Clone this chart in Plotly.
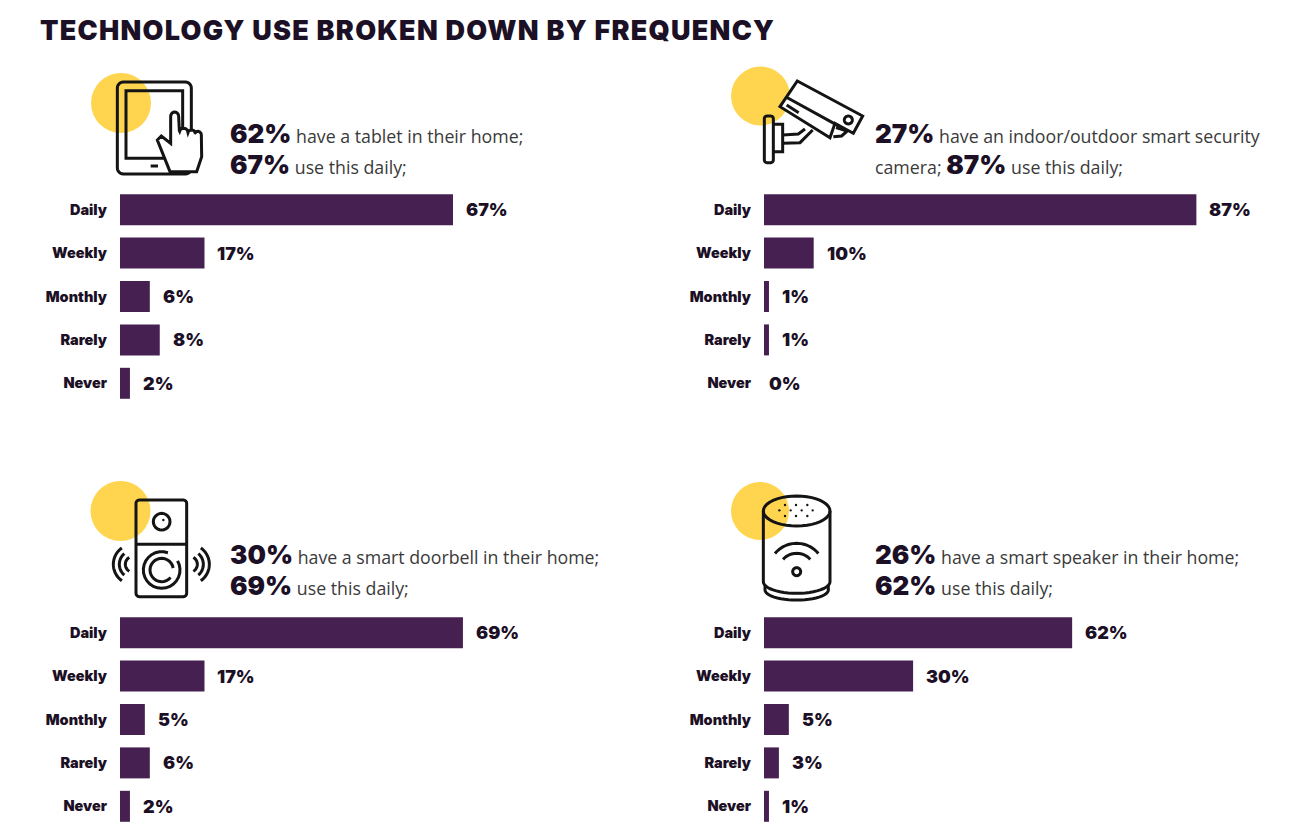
import math
import plotly.graph_objects as go

categories = ["Daily", "Weekly", "Monthly", "Rarely", "Never"]
tablet = [67, 17, 6, 8, 2]
camera = [87, 10, 1, 1, 0]
doorbell = [69, 17, 5, 6, 2]
speaker = [62, 30, 5, 3, 1]
title_text = "TECHNOLOGY USE BROKEN DOWN BY FREQUENCY"

W, H = 1292, 828
PURPLE = "#472052"
DARK = "#1c1026"
BODY = "#3a3a3a"
YELLOW = "#FFD54F"
INK = "#141414"
HEAVY = "Inter"


def px(x):
    return x / W


def py(y):
    return 1 - y / H


panels = [
    dict(vals=tablet, x0=120, y0=188, tx=230, ty=133,
         lines=[("62%", " have a tablet in their home;", ""), ("67%", " use this daily;", "")]),
    dict(vals=camera, x0=764, y0=188, tx=875, ty=133,
         lines=[("27%", " have an indoor/outdoor smart security", ""), ("87%", " use this daily;", "camera; ")]),
    dict(vals=doorbell, x0=120, y0=611, tx=230, ty=554,
         lines=[("30%", " have a smart doorbell in their home;", ""), ("69%", " use this daily;", "")]),
    dict(vals=speaker, x0=764, y0=611, tx=875, ty=554,
         lines=[("26%", " have a smart speaker in their home;", ""), ("62%", " use this daily;", "")]),
]

fig = go.Figure()
layout = {}
annotations = []
for i, p in enumerate(panels, start=1):
    s = "" if i == 1 else str(i)
    fig.add_trace(go.Bar(x=p["vals"], y=categories, orientation="h", marker=dict(color=PURPLE, line_width=0),
                         xaxis="x" + s, yaxis="y" + s, showlegend=False, hoverinfo="skip"))
    layout["xaxis" + s] = dict(domain=[px(p["x0"]), px(p["x0"] + 497)], range=[0, 100], visible=False, fixedrange=True,
                               anchor="y" + s)
    layout["yaxis" + s] = dict(domain=[py(p["y0"] + 217), py(p["y0"])], autorange="reversed", categoryorder="array",
                               categoryarray=categories, showline=False, showgrid=False, zeroline=False,
                               ticks="outside", ticklen=9, tickcolor="rgba(0,0,0,0)", anchor="x" + s,
                               tickfont=dict(family=HEAVY, size=14.5, color=DARK, weight=900), fixedrange=True)
    for c, v in zip(categories, p["vals"]):
        annotations.append(dict(x=v, y=c, xref="x" + s, yref="y" + s, text=f"{v}%", showarrow=False, xanchor="left",
                                xshift=11 if v else 3, font=dict(family=HEAVY, size=18, color=DARK, weight=900)))
    for k, (big, rest, pre) in enumerate(p["lines"]):
        pre_html = f'<span style="font-size:17.75px;font-family:Open Sans;font-weight:400;color:{BODY}">{pre}</span>' if pre else ""
        txt = (pre_html + f'<span style="font-weight:900;font-family:{HEAVY};font-size:26px;color:{DARK}">{big}</span>'
               f'<span style="font-size:17.75px;font-family:Open Sans;font-weight:400;color:{BODY}">{rest}</span>')
        annotations.append(dict(x=px(p["tx"] - 2), y=py(p["ty"] + k * 31), xref="paper", yref="paper", text=txt,
                                showarrow=False, xanchor="left", yanchor="middle"))

annotations.append(dict(x=px(38), y=py(30), xref="paper", yref="paper",
                        text=f'<span style="letter-spacing:1.25px">{title_text}</span>', showarrow=False,
                        xanchor="left", yanchor="middle", font=dict(family=HEAVY, size=27, color=DARK, weight=900)))

shapes = []


def T(o, x, y):
    return px(o[0] + x / 3), py(o[1] + y / 3)


def poly(o, pts, close=False, fill=None, lw=3):
    d = ""
    for j, (x, y) in enumerate(pts):
        a, b = T(o, x, y)
        d += ("M" if j == 0 else "L") + f"{a:.5f},{b:.5f} "
    if close:
        d += "Z"
    shapes.append(dict(type="path", path=d, xref="paper", yref="paper", line=dict(color=INK, width=lw),
                       fillcolor=fill or "rgba(0,0,0,0)"))


def arc(cx, cy, rx, ry, a0, a1, n=24):
    return [(cx + rx * math.cos(math.radians(a0 + (a1 - a0) * t / n)),
             cy + ry * math.sin(math.radians(a0 + (a1 - a0) * t / n))) for t in range(n + 1)]


def rrect(x0, y0, x1, y1, r):
    return (arc(x0 + r, y0 + r, r, r, 180, 270, 6) + arc(x1 - r, y0 + r, r, r, 270, 360, 6) +
            arc(x1 - r, y1 - r, r, r, 0, 90, 6) + arc(x0 + r, y1 - r, r, r, 90, 180, 6))


def disc(cx, cy, r, color):
    shapes.append(dict(type="circle", xref="paper", yref="paper", x0=px(cx - r), x1=px(cx + r), y0=py(cy + r),
                       y1=py(cy - r), fillcolor=color, line_width=0))


disc(121, 103, 30, YELLOW)
disc(760.5, 96, 29.5, YELLOW)
disc(120.5, 511, 30, YELLOW)
disc(760, 511, 29, YELLOW)

# tablet icon
o = (80, 60)
poly(o, rrect(112, 66, 334, 342, 18), True)
poly(o, [(138, 92), (308, 92), (308, 295), (138, 295)], True)
poly(o, [(212, 318), (234, 318)], lw=3)
hand = ([(272, 222)] + arc(284, 170, 12, 14, 180, 360, 10) +
        [(298, 212)] + arc(311, 214, 12, 9, 180, 360, 6) + arc(335, 218, 11, 8, 180, 360, 6) +
        arc(353, 224, 11, 10, 200, 360, 6) +
        [(365, 290), (350, 335), (270, 335), (232, 240), (244, 228), (272, 250)])
poly(o, hand, True, fill="#ffffff")

# camera icon
o = (720, 55)
poly(o, rrect(133, 183, 160, 323, 8), True)
poly(o, [(160, 208), (188, 208), (188, 290), (160, 290)])
poly(o, [(188, 240), (235, 237), (255, 222)])
poly(o, [(188, 265), (240, 263), (278, 225)])
poly(o, [(348, 218), (382, 228), (365, 243), (340, 245)], fill="#ffffff")
poly(o, [(232, 78), (428, 183), (400, 235), (345, 205), (330, 248), (180, 155)], True, fill="#ffffff")
poly(o, [(198, 126), (358, 214)])
poly(o, [(200, 150), (236, 173)])
poly(o, arc(385, 195, 12, 12, 0, 360), True)

# doorbell icon
o = (80, 475)
poly(o, rrect(168, 75, 320, 365, 10), True)
poly(o, [(168, 208), (320, 208)])
poly(o, arc(245, 140, 25, 25, 0, 360), True)
disc(80 + 250 / 3, 475 + 135 / 3, 1.2, INK)
poly(o, arc(245, 285, 55, 55, -30, 290))
poly(o, arc(245, 285, 35, 35, 40, 350))
for r, a in ((60, 55), (42, 50), (24, 60)):
    poly(o, arc(160, 268, r, r, 180 - a, 180 + a))
    poly(o, arc(328, 268, r, r, -a, a))

# speaker icon
o = (720, 475)
poly(o, arc(230, 108, 100, 45, 0, 360, 40), True)
poly(o, [(130, 108), (130, 320)] + arc(230, 320, 100, 35, 180, 0, 24) + [(330, 108)])
poly(o, [(135, 330), (135, 345)] + arc(230, 345, 95, 30, 180, 0, 24) + [(325, 330)])
poly(o, arc(230, 290, 85, 85, 220, 320))
poly(o, arc(230, 290, 55, 55, 222, 318))
poly(o, arc(230, 290, 12, 12, 0, 360), True)
for gx, gy in [(195, 90), (228, 90), (262, 90), (178, 106), (212, 106), (245, 106), (278, 106), (195, 123), (228, 123),
               (262, 123)]:
    disc(720 + gx / 3, 475 + gy / 3, 1.2, INK)

fig.update_layout(width=W, height=H, margin=dict(l=0, r=0, t=0, b=0), paper_bgcolor="#ffffff", plot_bgcolor="#ffffff",
                  bargap=0.286, annotations=annotations, shapes=shapes, showlegend=False, **layout)
fig.write_html("out.html", config=dict(displayModeBar=False), post_script="document.body.style.margin='0';")
